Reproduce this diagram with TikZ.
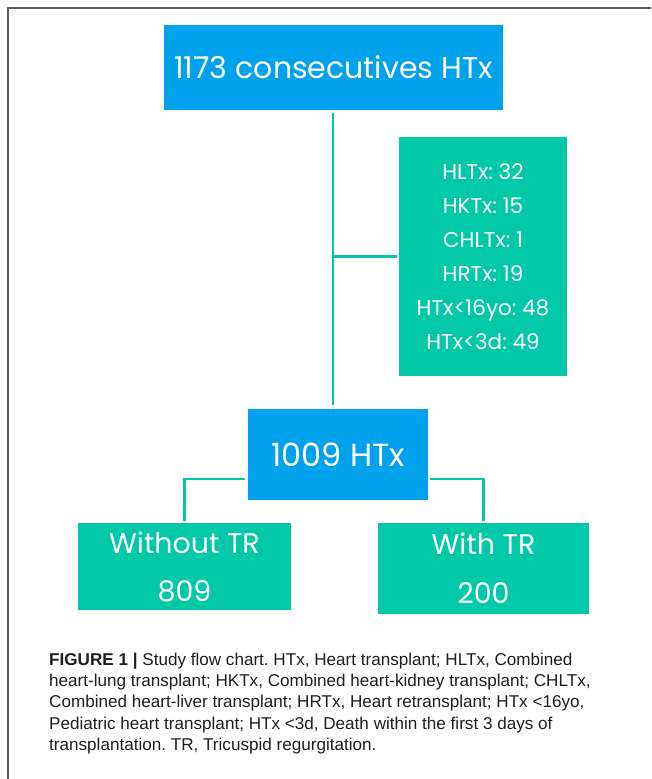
\documentclass[tikz,border=0pt]{standalone}
\usepackage{fontspec}
\setmainfont{Liberation Sans}
\newfontfamily\gothic{Poppins}
\definecolor{bluebox}{RGB}{0,162,237}
\definecolor{greenbox}{RGB}{0,200,168}
\definecolor{framegray}{RGB}{90,90,90}
\definecolor{captext}{RGB}{30,30,30}
\frenchspacing
\tikzset{
  bbox/.style={fill=bluebox, inner sep=0pt, text=white},
  gbox/.style={fill=greenbox, inner sep=0pt, text=white, align=center},
  conn/.style={draw=greenbox, line width=2.2pt},
  capline/.style={anchor=base west, inner sep=0pt, text=captext, font=\fontsize{17.1}{21}\selectfont},
}
\begin{document}
\begin{tikzpicture}[x=1pt,y=-1pt]
\useasboundingbox (0,0) rectangle (651,779);
\draw[framegray, line width=1.5pt] (8,779) -- (8,8) -- (651,8);

\node[bbox, minimum width=339pt, minimum height=85pt, font=\gothic\fontsize{30}{36}\selectfont] (top) at (333.5,67.5) {1173 consecutives HTx};
\node[gbox, minimum width=168pt, minimum height=239pt, font=\gothic\fontsize{21.5}{34}\selectfont] (excl) at (483,256.5)
  {HLTx: 32\\HKTx: 15\\CHLTx: 1\\HRTx: 19\\HTx<16yo: 48\\HTx<3d: 49};
\node[bbox, minimum width=180pt, minimum height=91pt, font=\gothic\fontsize{32}{36}\selectfont] (mid) at (338,454.5) {1009 HTx};
\node[gbox, minimum width=213pt, minimum height=87pt, font=\gothic\fontsize{28.5}{48}\selectfont] (wo) at (184.5,566.5) {Without TR\\809};
\node[gbox, minimum width=211pt, minimum height=91pt, font=\gothic\fontsize{28.5}{49}\selectfont] (wi) at (483.5,568.5) {With TR\\200};

\coordinate (vx) at (333,0);
\coordinate (brY) at (0,479);
\draw[conn, shorten <=3pt, shorten >=4pt] (vx |- top.south) -- (vx |- mid.north);
\draw[conn, shorten >=2pt] (vx |- excl.west) -- (excl.west);
\draw[conn, shorten <=3pt, shorten >=2pt] (mid.west |- brY) -| (wo.north);
\draw[conn, shorten <=2pt, shorten >=2pt] (mid.east |- brY) -| (wi.north);

\node[capline] (c1) at (49,665) {\textbf{FIGURE 1 |} Study flow chart. HTx, Heart transplant; HLTx, Combined};
\node[capline] (c2) at (49,686) {heart-lung transplant; HKTx, Combined heart-kidney transplant; CHLTx,};
\node[capline] (c3) at (49,707.5) {Combined heart-liver transplant; HRTx, Heart retransplant; HTx <16yo,};
\node[capline] (c4) at (49,729) {Pediatric heart transplant; HTx <3d, Death within the first 3 days of};
\node[capline] (c5) at (49,750) {transplantation. TR, Tricuspid regurgitation.};
\end{tikzpicture}
\end{document}
